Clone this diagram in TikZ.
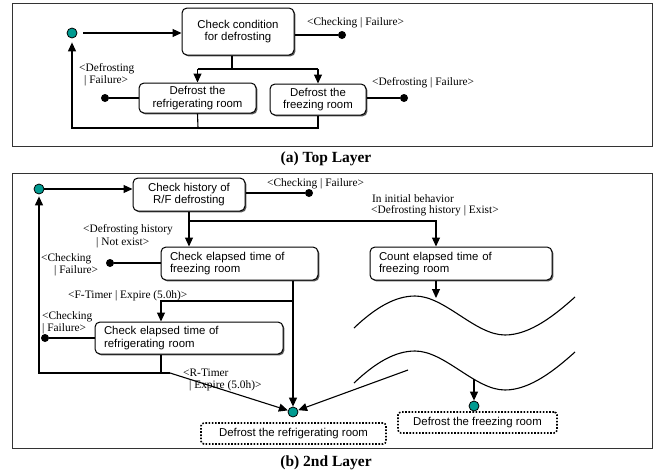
\documentclass[tikz,border=0pt]{standalone}
\usepackage{fontspec}
\setmainfont{Liberation Serif}
\setsansfont{Liberation Sans}
\usetikzlibrary{arrows.meta,shadows}
\definecolor{initc}{RGB}{0,155,145}
\tikzset{
	act/.style 2 args={draw,line width=1pt,rounded corners=5pt,fill=white,
		drop shadow={shadow xshift=1.4pt,shadow yshift=-1.4pt,fill=black!65,opacity=1},
		font=\sffamily\fontsize{11.4}{12.5}\selectfont,align=center,
		minimum width=#1,minimum height=#2,inner sep=0pt},
	lact/.style 2 args={act={0pt}{#2},text width=#1,align=left,inner xsep=9pt},
	ghost/.style 2 args={draw,line width=1.6pt,dash pattern=on 1.6pt off 1.6pt,rounded corners=3pt,
		font=\sffamily\fontsize{11.4}{12}\selectfont,minimum width=#1,minimum height=#2,inner sep=0pt},
	init/.style={circle,draw,line width=0.8pt,fill=initc,inner sep=0pt,minimum size=10pt},
	fin/.style={circle,fill,inner sep=0pt,minimum size=8pt},
	lbl/.style={font=\fontsize{11.4}{12}\selectfont,anchor=base west,inner sep=0pt},
	title/.style={font=\bfseries\fontsize{15.5}{17}\selectfont},
	line/.style={line width=1.1pt},
	flow/.style={line width=1.1pt,-{Triangle[length=9pt,width=8pt]}}
}
\begin{document}
\begin{tikzpicture}[x=1pt,y=-1pt]
	\useasboundingbox (0,0) rectangle (659,474);
	% (a) top layer
	\draw[line width=1pt,black!80] (12,3) rectangle (652,146);
	\node [init] (init) at (72,33) {};
	\node [act={112pt}{47pt}] (cond) at (238,31.5) {Check condition\\for defrosting};
	\node [act={117pt}{30pt}] (refr) at (197.5,98) {Defrost the\\refrigerating room};
	\node [act={96pt}{31pt}] (frz) at (318,99.5) {Defrost the\\freezing room};
	\node [fin] (cfail) at (342,35) {};
	\node [fin] (rfail) at (105,98) {};
	\node [fin] (ffail) at (404,98) {};
	\coordinate (cbr) at (232,69);
	\coordinate (bl) at (198,128);
	\coordinate (br) at (318,128);
	
	\draw [flow,shorten <=6pt] (init) -- (init -| cond.west);
	\draw [line] (cond.east |- cfail) -- (cfail);
	\draw [line] (cond.south -| cbr) -- (cbr);
	\draw [line] (cbr -| refr.north) -- (cbr -| frz.north);
	\draw [flow] (cbr -| refr.north) -- (refr.north);
	\draw [flow] (cbr -| frz.north) -- (frz.north);
	\draw [line] (refr.west |- rfail) -- (rfail);
	\draw [line] (frz.east |- ffail) -- (ffail);
	\draw [line] (refr.south) -- (bl);
	\draw [flow,shorten >=4pt] (frz.south) -- (br) -- (init |- br) -- (init);
	
	\node [lbl] (l1) at (307,25) {<Checking | Failure>};
	\node [lbl] (l2) at (372,85.5) {<Defrosting | Failure>};
	\node [lbl] (l3) at (79,71) {<Defrosting};
	\node [lbl] (l4) at (84,83.5) {| Failure>};
	\node [title] (capa) at (326,159) {(a) Top Layer};
	
	% (b) 2nd layer
	\draw[line width=1pt,black!80] (12,173) rectangle (652,448);
	\node [init] (init2) at (39,189) {};
	\node [act={112pt}{33pt}] (hist) at (189,194.5) {Check history of\\R/F defrosting};
	\node [lact={139pt}{33pt}] (felap) at (239.5,263.5) {Check elapsed time of\\freezing room};
	\node [lact={170pt}{32pt}] (relap) at (189,338) {Check elapsed time of\\refrigerating room};
	\node [lact={164pt}{33pt}] (count) at (461,263.5) {Count elapsed time of\\freezing room};
	\node [ghost={185pt}{21pt}] (grefr) at (293.5,433.5) {Defrost the refrigerating room};
	\node [ghost={159pt}{21pt}] (gfrz) at (477.5,422.5) {Defrost the freezing room};
	\node [fin] (hfail) at (309,193) {};
	\node [fin] (efail) at (110,263) {};
	\node [fin] (qfail) at (45,338) {};
	\node [init] (join1) at (293,412) {};
	\node [init] (join2) at (474,406) {};
	\coordinate (hbr) at (189,221);
	\coordinate (cnt) at (436,221);
	\coordinate (fbr) at (293,301);
	\coordinate (rbr) at (161,301);
	\coordinate (rb) at (161,373);
	\coordinate (rt) at (170,373);
	\coordinate (w1) at (436,298);
	\coordinate (w2) at (474,379);
	\coordinate (tail) at (408,370);
	
	\draw [flow] (init2) -- (init2 -| hist.west);
	\draw [line] (hist.east |- hfail) -- (hfail);
	\draw [flow] (hist.south -| hbr) -- (hbr |- felap.north);
	\draw [flow] (hbr) -- (cnt) -- (cnt |- count.north);
	\draw [line] (felap.west |- efail) -- (efail);
	\draw [flow] (felap.south -| fbr) -- (join1);
	\draw [flow] (fbr) -- (rbr) -- (rbr |- relap.north);
	\draw [line] (relap.west |- qfail) -- (qfail);
	\draw [line] (relap.south -| rb) -- (rb);
	\draw [flow,shorten >=2pt] (rt) -- (init2 |- rt) -- (init2);
	\draw [flow] (rt) -- (join1);
	\draw [flow] (tail) -- (join1);
	\draw [flow] (count.south -| w1) -- (w1);
	\draw [flow] (w2) -- (join2);
	\draw [line width=1.1pt] (354,328) .. controls (375,308) and (395,296) .. (415,296)
		.. controls (445,296) and (475,335) .. (505,335)
		.. controls (530,335) and (555,315) .. (575,297);
	\draw [line width=1.1pt] (354,383) .. controls (375,363) and (395,351) .. (415,351)
		.. controls (445,351) and (475,390) .. (505,390)
		.. controls (530,390) and (555,370) .. (575,352);
	
	\node [lbl] (m1) at (267,186) {<Checking | Failure>};
	\node [lbl] (m2) at (372,202) {In initial behavior};
	\node [lbl] (m3) at (371,213.5) {<Defrosting history | Exist>};
	\node [lbl] (m4) at (83,232) {<Defrosting history};
	\node [lbl] (m5) at (96,245.5) {| Not exist>};
	\node [lbl] (m6) at (41,261) {<Checking};
	\node [lbl] (m7) at (54,273.5) {| Failure>};
	\node [lbl] (m8) at (68,298.5) {<F-Timer | Expire (5.0h)>};
	\node [lbl] (m9) at (42,319) {<Checking};
	\node [lbl] (m10) at (42,331) {| Failure>};
	\node [lbl] (m11) at (183,376.5) {<R-Timer};
	\node [lbl] (m12) at (189,388) {| Expire (5.0h)>};
	\node [title] (capb) at (326,463) {(b) 2nd Layer};
\end{tikzpicture}
\end{document}
